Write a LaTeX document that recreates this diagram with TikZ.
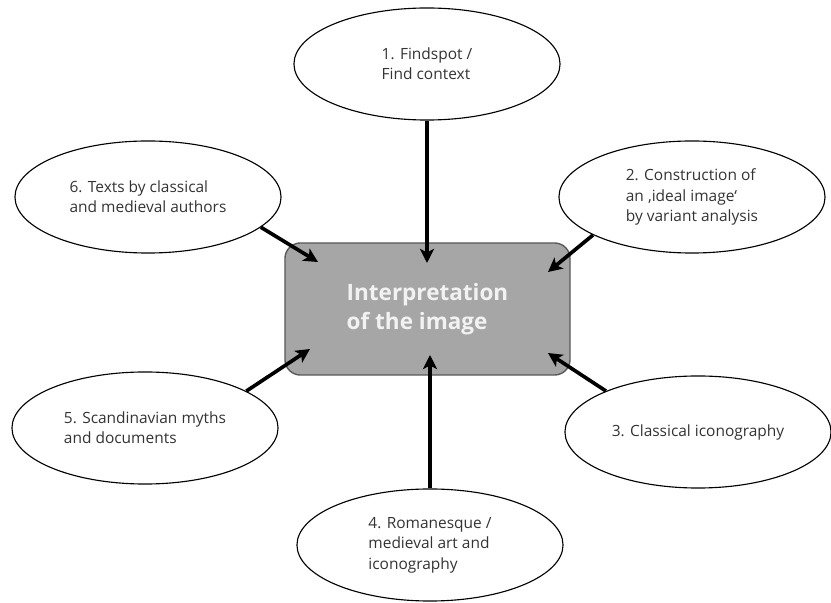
\documentclass[tikz,border=0pt]{standalone}
\usepackage{fontspec}
\setmainfont{Open Sans}
\usetikzlibrary{arrows.meta,shapes.geometric}
\definecolor{boxgrey}{HTML}{A6A6A6}
\definecolor{rimgrey}{HTML}{5A5A5A}
\definecolor{inkgrey}{HTML}{333333}

\begin{document}
\begin{tikzpicture}[x=0.025cm,y=-0.025cm,
  idea/.style={ellipse,draw,line width=0.8pt,minimum width=6.65cm,minimum height=2.8cm,
    inner sep=0pt,align=left,text=inkgrey,font=\fontsize{11}{14.5}\selectfont},
  feed/.style={-{Stealth[length=10pt,width=10pt,inset=2.5pt]},line width=2.6pt}]
  \useasboundingbox (0,0) rectangle (831,603);
  % the centre box
  \node[fill=boxgrey,draw=rimgrey,line width=1pt,rounded corners=11pt,minimum width=7.125cm,
    minimum height=3.3cm,align=left,text=white!95!black,
    font=\fontsize{16}{20.5}\selectfont\bfseries] (core) at (427.5,309) {Interpretation\\of the image};
  % the six sources
  \node[idea] (e1) at (427,64) {1. Findspot /\\Find context};
  \node[idea] (e2) at (692,197) {2. Construction of\\an ‚ideal image‘\\by variant analysis};
  \node[idea] (e3) at (698,432) {3. Classical iconography};
  \node[idea] (e4) at (430,545) {4. Romanesque /\\medieval art and\\iconography};
  \node[idea] (e5) at (145,428) {5. Scandinavian myths\\and documents};
  \node[idea] (e6) at (148,197) {6. Texts by classical\\and medieval authors};
  % arrow tips inside the box
  \coordinate (t1) at (427,263);
  \coordinate (t2) at (548,272);
  \coordinate (t3) at (548,353);
  \coordinate (t4) at (430,355);
  \coordinate (t5) at (310,349);
  \coordinate (t6) at (318,262);
  \draw[feed] (e1) -- (t1);
  \draw[feed] (e2.201) -- (t2);
  \draw[feed] (e3.156) -- (t3);
  \draw[feed] (e4) -- (t4);
  \draw[feed] (e5.20) -- (t5);
  \draw[feed] (e6.-15) -- (t6);
\end{tikzpicture}
\end{document}
